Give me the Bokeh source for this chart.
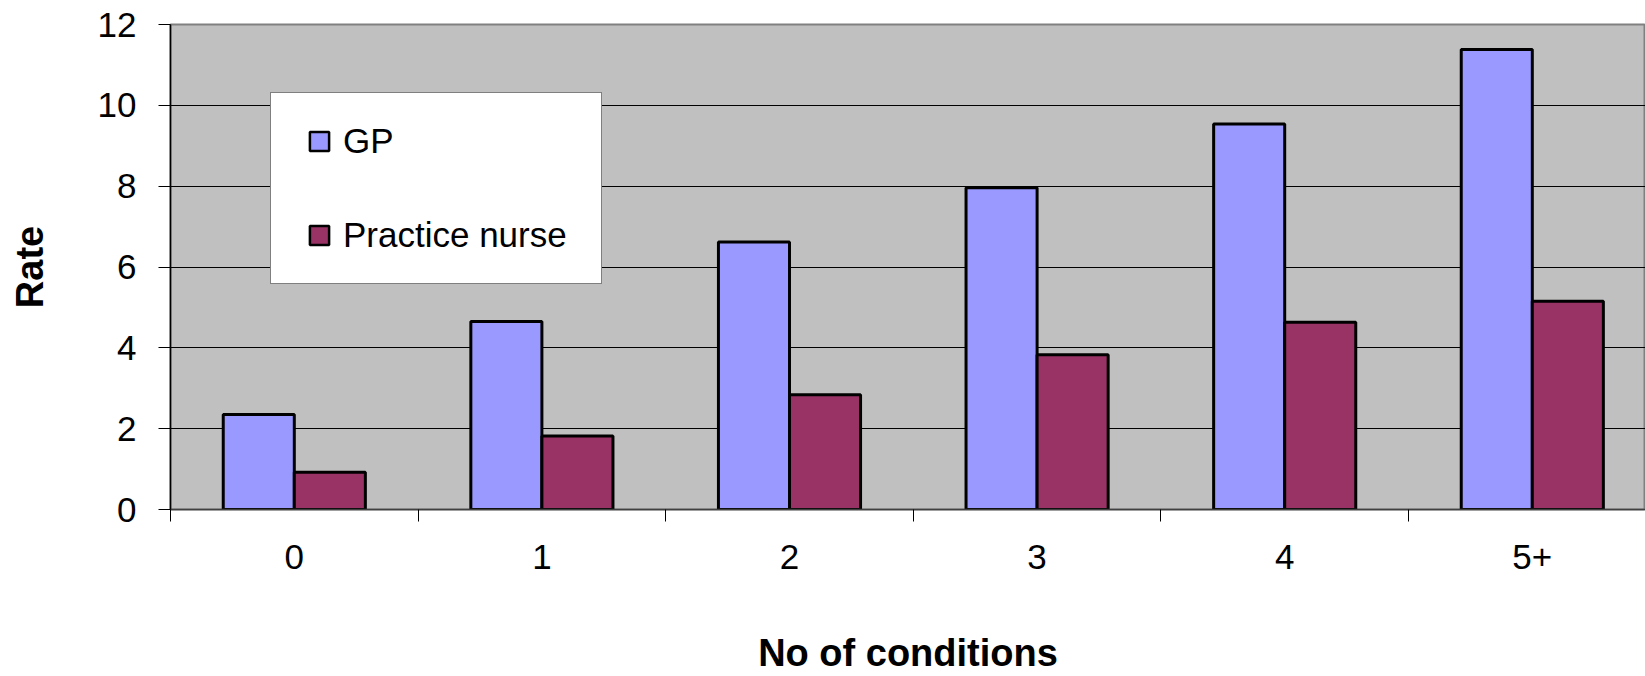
from bokeh.plotting import figure
from bokeh.models import FixedTicker, Range1d, ColumnDataSource, Legend, LegendItem
from bokeh.transform import dodge
from bokeh.embed import file_html
from bokeh.resources import INLINE

# ---- data ----
categories = ["0", "1", "2", "3", "4", "5+"]
gp_rate = [2.35, 4.65, 6.62, 7.96, 9.54, 11.38]
nurse_rate = [0.92, 1.82, 2.84, 3.83, 4.63, 5.15]
series_names = ["GP", "Practice nurse"]
y_ticks = [0, 2, 4, 6, 8, 10, 12]
x_title = "No of conditions"
y_title = "Rate"

# ---- styles ----
GP_COLOR = "#9999FF"
NURSE_COLOR = "#993366"
FONT = "Liberation Sans"

positions = list(range(len(categories)))
source = ColumnDataSource(dict(pos=positions, gp=gp_rate, nurse=nurse_rate))

cat_px = 247.6
frame_w = 1475
p = figure(width=1645, height=676, output_backend="svg", toolbar_location=None,
           title=None,
           x_range=Range1d(-0.5, -0.5 + frame_w / cat_px),
           y_range=Range1d(0, 12),
           min_border_left=170, min_border_right=0,
           min_border_top=24, min_border_bottom=167)
p.background_fill_color = "#C0C0C0"
p.border_fill_color = "white"
p.outline_line_color = "#808080"
p.outline_line_width = 2

bar_w = 0.287
p.vbar(x=dodge("pos", -bar_w / 2), top="gp", width=bar_w, source=source,
       fill_color=GP_COLOR, line_color="black", line_width=3)
p.vbar(x=dodge("pos", bar_w / 2), top="nurse", width=bar_w, source=source,
       fill_color=NURSE_COLOR, line_color="black", line_width=3)

# legend proxies (no visible points in the plot area)
nan = float("nan")
leg_src = ColumnDataSource(dict(x=[nan], y=[nan]))
r_gp = p.scatter("x", "y", source=leg_src, marker="square", size=20,
                 fill_color=GP_COLOR, line_color="black", line_width=2.5)
r_nu = p.scatter("x", "y", source=leg_src, marker="square", size=20,
                 fill_color=NURSE_COLOR, line_color="black", line_width=2.5)

legend = Legend(items=[LegendItem(label=series_names[0], renderers=[r_gp], index=0),
                       LegendItem(label=series_names[1], renderers=[r_nu], index=0)],
                location=(100, 225), orientation="vertical",
                glyph_width=48, glyph_height=48, label_standoff=0,
                label_width=234, label_height=40, spacing=46, padding=24,
                margin=0, border_line_color="black", border_line_width=1,
                background_fill_color="white", background_fill_alpha=1,
                label_text_font=FONT, label_text_font_size="35px",
                label_text_color="black")
p.add_layout(legend, "center")

# x axis
xt = FixedTicker(ticks=positions,
                 minor_ticks=[i - 0.5 for i in range(len(categories) + 1)])
p.xaxis.ticker = xt
p.xaxis.major_label_overrides = {i: c for i, c in enumerate(categories)}
p.xaxis.major_tick_out = 0
p.xaxis.major_tick_in = 0
p.xaxis.minor_tick_out = 12
p.xaxis.minor_tick_in = 0
p.xaxis.minor_tick_line_color = "black"
p.xaxis.axis_line_color = "#404040"
p.xaxis.axis_line_width = 1.5
p.xaxis.major_label_standoff = 23
p.xaxis.major_label_text_font = FONT
p.xaxis.major_label_text_font_size = "35px"
p.xaxis.major_label_text_color = "black"
p.xaxis.axis_label = x_title
p.xaxis.axis_label_text_font = FONT
p.xaxis.axis_label_text_font_size = "38px"
p.xaxis.axis_label_text_font_style = "bold"
p.xaxis.axis_label_text_color = "black"
p.xaxis.axis_label_standoff = 60
p.xgrid.visible = False

# y axis
yt = FixedTicker(ticks=y_ticks, minor_ticks=[])
p.yaxis.ticker = yt
p.ygrid.ticker = yt
p.yaxis.major_tick_out = 12
p.yaxis.major_tick_in = 0
p.yaxis.minor_tick_out = 0
p.yaxis.minor_tick_in = 0
p.yaxis.axis_line_color = "black"
p.yaxis.axis_line_width = 1.5
p.yaxis.major_tick_line_color = "black"
p.yaxis.major_label_standoff = 22
p.yaxis.major_label_text_font = FONT
p.yaxis.major_label_text_font_size = "35px"
p.yaxis.major_label_text_color = "black"
p.yaxis.axis_label = y_title
p.yaxis.axis_label_text_font = FONT
p.yaxis.axis_label_text_font_size = "38px"
p.yaxis.axis_label_text_font_style = "bold"
p.yaxis.axis_label_text_color = "black"
p.yaxis.axis_label_standoff = 44
p.ygrid.grid_line_color = "black"
p.ygrid.grid_line_width = 1

open("out.html", "w").write(file_html(p, INLINE))
